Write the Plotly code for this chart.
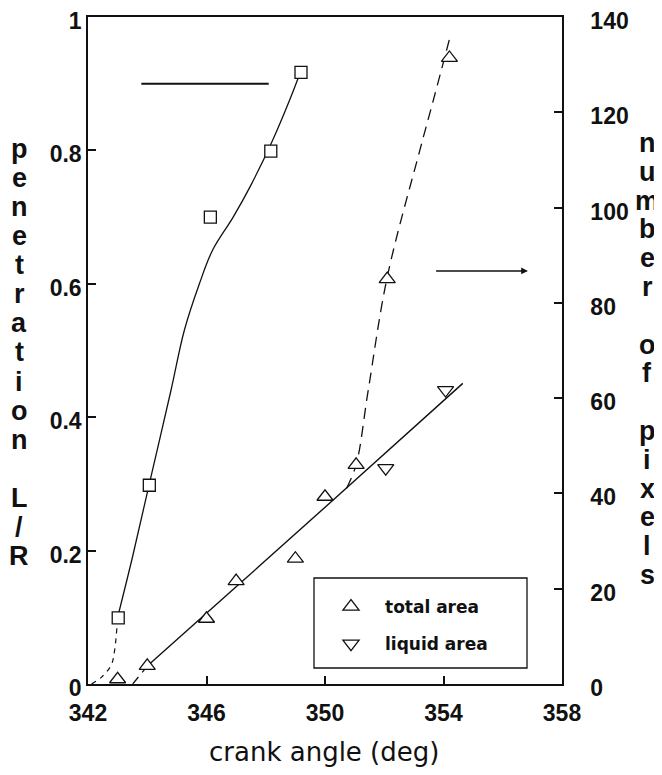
import plotly.graph_objects as go

# ---------------- data ----------------
# penetration L/R (left axis), squares
pen_angle = [343.02, 344.07, 346.13, 348.17, 349.19]
pen_value = [0.099, 0.298, 0.700, 0.799, 0.917]

# fitted curve through penetration points (solid) and its dashed extension
pen_fit_angle = [343.0, 343.5, 344.07, 344.8, 345.25, 345.76, 346.2, 346.9, 347.5, 348.24, 348.81, 349.15]
pen_fit_value = [0.10, 0.19, 0.30, 0.44, 0.53, 0.60, 0.65, 0.70, 0.748, 0.816, 0.876, 0.915]
pen_ext_angle = [342.12, 342.45, 342.78, 342.9, 343.0]
pen_ext_value = [0.0, 0.010, 0.028, 0.051, 0.10]

# number of pixels (right axis)
total_angle = [343.0, 344.0, 346.0, 347.0, 349.0, 350.0, 351.05, 352.1, 354.2]
total_value = [1.0, 3.8, 13.7, 21.6, 26.3, 39.3, 46.0, 85.0, 131.4]
liquid_angle = [352.05, 354.07]
liquid_value = [45.3, 61.7]

# fitted lines on right axis
common_dash_angle = [343.51, 344.02]
common_dash_value = [0.0, 3.9]
common_fit_angle = [344.02, 347.0, 350.2, 354.65]
common_fit_value = [3.9, 20.4, 38.2, 63.1]
total_fit_angle = [350.73, 351.05, 351.46, 352.1, 353.2, 353.66, 354.25]
total_fit_value = [41.1, 46.0, 61.7, 85.4, 112.0, 122.6, 136.5]

x_ticks = [342, 346, 350, 354, 358]
y_ticks = [0, 0.2, 0.4, 0.6, 0.8, 1]
y_ticktext = ["0", "0.2", "0.4", "0.6", "0.8", "1"]
y2_ticks = [0, 20, 40, 60, 80, 100, 120, 140]

left_title = "penetration L/R"
right_title = "number of pixels"
x_title = "crank angle (deg)"
legend_names = ["total area", "liquid area"]

# ---------------- layout helpers ----------------
# the page body has an 8px margin, so the figure is offset inside the window
OFF = 8
W, H = 662 - OFF, 775 - OFF
PLOT_L, PLOT_R, PLOT_T, PLOT_B = 88, 562, 17, 684   # plot area in window pixels
L = PLOT_L - OFF
T = PLOT_T - OFF
R = W - (PLOT_R - OFF)
B = H - (PLOT_B - OFF)
PW, PH = PLOT_R - PLOT_L, PLOT_B - PLOT_T


def px_x(p):
    return (p - PLOT_L) / PW


def px_y(p):
    return 1 - (p - PLOT_T) / PH


BLACK = "#111111"
fig = go.Figure()

# lines
fig.add_trace(go.Scatter(x=pen_ext_angle, y=pen_ext_value, mode="lines",
                         line=dict(color=BLACK, width=1.2, dash="5px,5px", shape="spline"),
                         showlegend=False, hoverinfo="skip"))
fig.add_trace(go.Scatter(x=pen_fit_angle, y=pen_fit_value, mode="lines",
                         line=dict(color=BLACK, width=1.3, shape="spline"),
                         showlegend=False, hoverinfo="skip"))
fig.add_trace(go.Scatter(x=common_dash_angle, y=common_dash_value, mode="lines", yaxis="y2",
                         line=dict(color=BLACK, width=1.3, dash="9px,6px"),
                         showlegend=False, hoverinfo="skip"))
fig.add_trace(go.Scatter(x=common_fit_angle, y=common_fit_value, mode="lines", yaxis="y2",
                         line=dict(color=BLACK, width=1.4, shape="spline"),
                         showlegend=False, hoverinfo="skip"))
fig.add_trace(go.Scatter(x=total_fit_angle, y=total_fit_value, mode="lines", yaxis="y2",
                         line=dict(color=BLACK, width=1.3, dash="11px,7px", shape="spline"),
                         showlegend=False, hoverinfo="skip"))

# markers
fig.add_trace(go.Scatter(x=pen_angle, y=pen_value, mode="markers",
                         marker=dict(symbol="square", size=12, color="white",
                                     line=dict(color=BLACK, width=1.3)),
                         showlegend=False))
fig.add_trace(go.Scatter(x=total_angle, y=total_value, mode="markers", yaxis="y2",
                         name=legend_names[0], legendgroup="a",
                         marker=dict(symbol="triangle-up", size=14, color="white",
                                     line=dict(color=BLACK, width=1.3))))
fig.add_trace(go.Scatter(x=liquid_angle, y=liquid_value, mode="markers", yaxis="y2",
                         name=legend_names[1], legendgroup="b",
                         marker=dict(symbol="triangle-down", size=14, color="white",
                                     line=dict(color=BLACK, width=1.3))))

tickfont = dict(family="Liberation Sans, Arial, sans-serif", size=23, color=BLACK, weight="bold")
letterfont = dict(family="Liberation Sans, Arial, sans-serif", size=27, color=BLACK, weight="bold")

annotations = []
# stacked vertical axis titles
for i, ch in enumerate(left_title):
    if ch == " ":
        continue
    annotations.append(dict(text=ch, xref="paper", yref="paper", x=px_x(19), y=px_y(149 + i * 29.07),
                            showarrow=False, xanchor="center", yanchor="middle", font=letterfont))
for i, ch in enumerate(right_title):
    if ch == " ":
        continue
    annotations.append(dict(text=ch, xref="paper", yref="paper", x=px_x(647), y=px_y(143 + i * 28.8),
                            showarrow=False, xanchor="center", yanchor="middle", font=letterfont))
# x axis title
annotations.append(dict(text=x_title, xref="paper", yref="paper", x=px_x(324), y=px_y(752),
                        showarrow=False, xanchor="center", yanchor="middle",
                        font=dict(family="DejaVu Sans, sans-serif", size=26, color=BLACK)))
# arrow pointing to right axis
annotations.append(dict(text="", x=356.85, y=86.7, xref="x", yref="y2",
                        ax=353.7, ay=86.7, axref="x", ayref="y2",
                        showarrow=True, arrowhead=2, arrowsize=0.9, arrowwidth=1.5,
                        arrowcolor=BLACK, standoff=0))

shapes = [
    # line pointing to left axis
    dict(type="line", xref="x", yref="y", x0=343.8, x1=348.1, y0=0.9, y1=0.9,
         line=dict(color=BLACK, width=2)),
    # legend box
    dict(type="rect", xref="paper", yref="paper", x0=px_x(314), x1=px_x(527),
         y0=px_y(668), y1=px_y(578), line=dict(color=BLACK, width=1.3)),
]

fig.update_layout(
    width=W, height=H,
    margin=dict(l=L, r=R, t=T, b=B, autoexpand=False),
    paper_bgcolor="white", plot_bgcolor="white",
    showlegend=True,
    legend=dict(x=px_x(317), y=px_y(589), xanchor="left", yanchor="top",
                bgcolor="rgba(0,0,0,0)", borderwidth=0, itemwidth=58,
                traceorder="grouped", tracegroupgap=12,
                font=dict(family="DejaVu Sans, sans-serif", size=17, color=BLACK, weight="bold")),
    xaxis=dict(range=[342, 358], tickvals=x_ticks, ticks="inside", ticklen=8, tickwidth=1.5,
               tickcolor=BLACK, showline=True, linecolor=BLACK, linewidth=1.5, mirror=True,
               showgrid=False, zeroline=False, tickfont=tickfont, ticklabelstandoff=8,
               ticklabeloverflow="allow", automargin=False),
    yaxis=dict(range=[0, 1], tickvals=y_ticks, ticktext=y_ticktext, ticks="inside", ticklen=8,
               tickwidth=1.5, tickcolor=BLACK, showline=True, linecolor=BLACK, linewidth=1.5,
               showgrid=False, zeroline=False, tickfont=tickfont, ticklabelstandoff=0,
               ticklabelshift=4, ticklabeloverflow="allow", automargin=False),
    yaxis2=dict(range=[0, 140], tickvals=y2_ticks, ticks="inside", ticklen=8, tickwidth=1.5,
                tickcolor=BLACK, showline=True, linecolor=BLACK, linewidth=1.5,
                overlaying="y", side="right", showgrid=False, zeroline=False,
                tickfont=tickfont, ticklabelstandoff=22, ticklabelshift=4,
                ticklabeloverflow="allow", automargin=False),
    annotations=annotations,
    shapes=shapes,
)

fig.write_html("out.html")
